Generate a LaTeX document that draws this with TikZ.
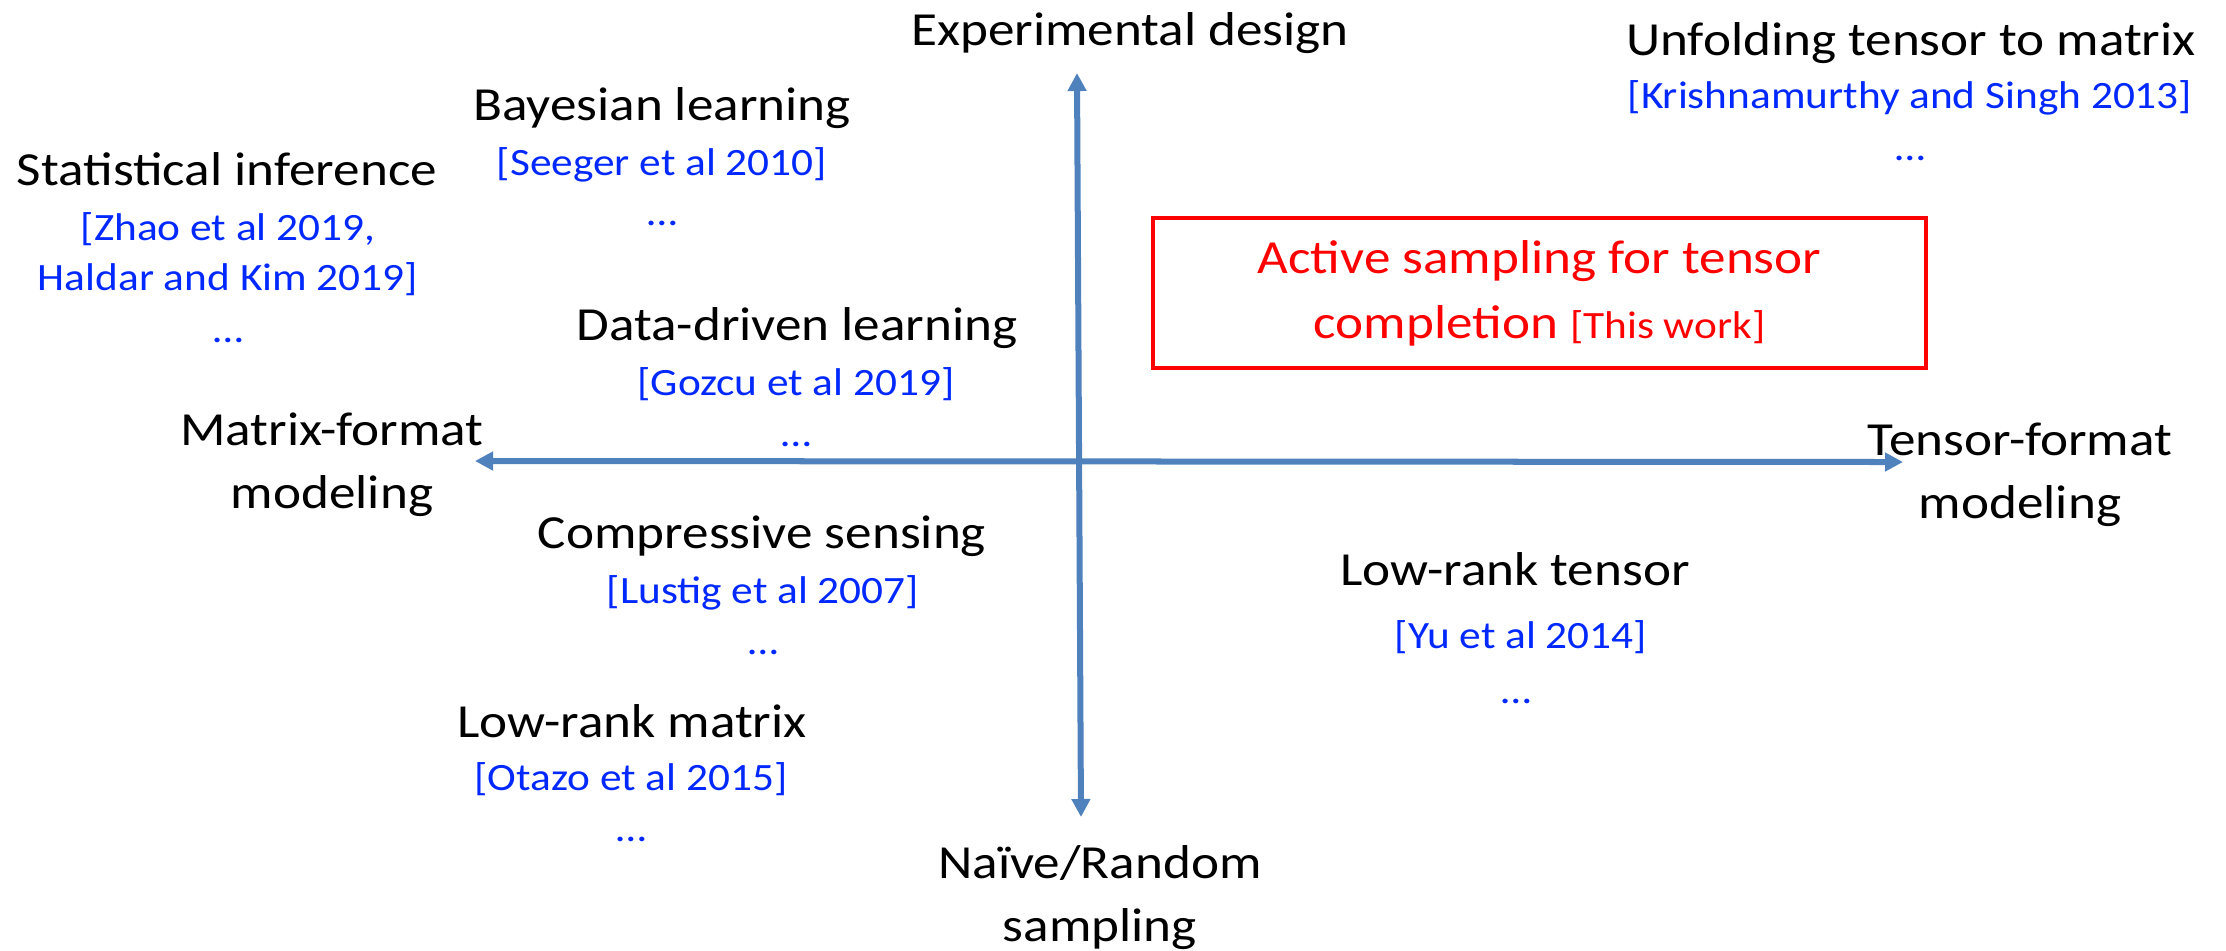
\documentclass[tikz,border=0pt]{standalone}
\usepackage{fontspec}
\setmainfont{Carlito}[FakeStretch=1.12]
\usetikzlibrary{arrows.meta}
\definecolor{axisblue}{HTML}{4F81BD}
\definecolor{refblue}{RGB}{0,40,255}

\tikzset{
  topic/.style={anchor=base, inner sep=0, align=center, font=\fontsize{13.5}{17.9}\selectfont},
  cite/.style={anchor=base, inner sep=0, align=center, text=refblue, font=\fontsize{11}{14.2}\selectfont},
  axis/.style={axisblue, line width=0.06cm, {Triangle[length=0.18cm,width=0.18cm]}-{Triangle[length=0.18cm,width=0.18cm]}},
}

\begin{document}
\begin{tikzpicture}[x=0.01cm, y=-0.01cm]
  \useasboundingbox (0,0) rectangle (2226,950);
  % axes
  \coordinate (north) at (1077,73);
  \coordinate (south) at (1081,817);
  \coordinate (west) at (475,461);
  \coordinate (east) at (1903,462);
  \draw[axis] (north) -- (south);
  \draw[axis] (west) -- (east);
  % axis labels (base = last line)
  \node[topic] (expdesign) at (1130,45) {Experimental design};
  \node[topic] (naive) at (1100,941) {Naïve/Random\\sampling};
  \node[topic] (matfmt) at (332,508) {Matrix-format\\modeling};
  \node[topic] (tenfmt) at (2020,518) {Tensor-format\\modeling};
  % upper left
  \node[topic] (statinf) at (227,185) {Statistical inference};
  \node[cite] (statinfref) at (228,290) {[Zhao et al 2019,\\Haldar and Kim 2019]};
  \node[cite] (statinfdots) at (228,342) {…};
  \node[topic] (bayes) at (662,120) {Bayesian learning};
  \node[cite] (bayesref) at (662,175) {[Seeger et al 2010]};
  \node[cite] (bayesdots) at (662,225) {…};
  \node[topic] (datadriven) at (797,340) {Data-driven learning};
  \node[cite] (datadrivenref) at (796,395) {[Gozcu et al 2019]};
  \node[cite] (datadrivendots) at (796,446) {…};
  % lower left
  \node[topic] (cs) at (762,548) {Compressive sensing};
  \node[cite] (csref) at (763,603) {[Lustig et al 2007]};
  \node[cite] (csdots) at (763,654) {…};
  \node[topic] (lrmat) at (632,737) {Low-rank matrix};
  \node[cite] (lrmatref) at (631,790) {[Otazo et al 2015]};
  \node[cite] (lrmatdots) at (631,841) {…};
  % right side
  \node[topic] (unfold) at (1911,55) {Unfolding tensor to matrix};
  \node[cite] (unfoldref) at (1910,108) {[Krishnamurthy and Singh 2013]};
  \node[cite] (unfolddots) at (1910,160) {…};
  \node[topic] (lrten) at (1515,585) {Low-rank tensor};
  \node[cite] (lrtenref) at (1521,648) {[Yu et al 2014]};
  \node[cite] (lrtendots) at (1516,703) {…};
  % this work
  \node[draw=red, line width=0.04cm, text=red, align=center,
        minimum width=7.73cm, minimum height=1.5cm,
        font=\fontsize{13.5}{18.5}\selectfont] (thiswork) at (1539.5,293)
    {Active sampling for tensor\\completion {\fontsize{11}{14}\selectfont[This work]}};
\end{tikzpicture}
\end{document}
